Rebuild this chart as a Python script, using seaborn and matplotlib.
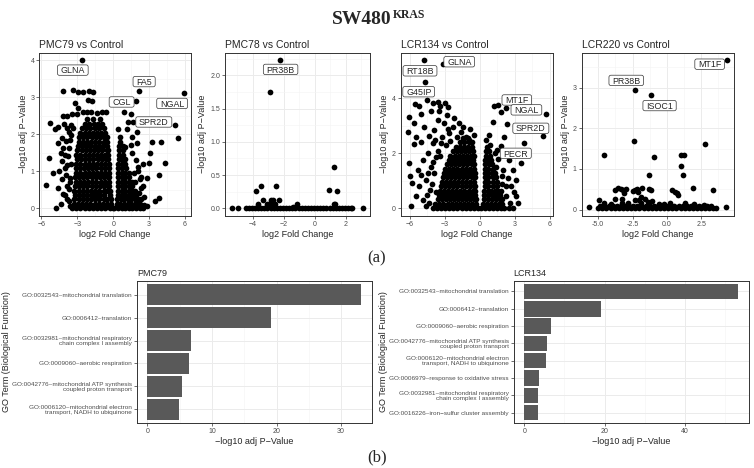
import numpy as np
import pandas as pd
import matplotlib
matplotlib.use("Agg")
import matplotlib.pyplot as plt
import seaborn as sns
from matplotlib.ticker import MultipleLocator, FormatStrFormatter
from matplotlib.patches import FancyBboxPatch
from matplotlib.transforms import IdentityTransform

# ------------------------------------------------------------------ data
panel_titles = ["PMC79 vs Control", "PMC78 vs Control", "LCR134 vs Control", "LCR220 vs Control"]

# volcano points: rows of (-log10 adj p, [log2FC ...]) for dense areas, plus scattered points
pmc79_rows = [
    (0.00, [-3.45, -3.1, -2.75, -2.4, -2.05, -1.7, -1.35, -1.0, -0.65, -0.3, -0.05, 0.1, 0.4, 0.7, 1.0, 1.3, 1.6, 1.9, 2.2, 2.45]),
    (0.12, [-3.3, -2.95, -2.6, -2.25, -1.9, -1.55, -1.2, -0.85, -0.5, -0.2, 0.3, 0.6, 0.9, 1.2, 1.5, 1.8, 2.05, 2.25]),
    (0.24, [-3.25, -2.9, -2.55, -2.2, -1.85, -1.5, -1.15, -0.8, -0.5, -0.22, 0.32, 0.62, 0.92, 1.22, 1.52, 1.82, 2.1]),
    (0.36, [-3.2, -2.85, -2.5, -2.15, -1.8, -1.45, -1.1, -0.75, -0.3, 0.4, 0.7, 1.0, 1.3, 1.6, 1.9]),
    (0.48, [-3.25, -2.9, -2.55, -2.2, -1.85, -1.5, -1.15, -0.8, -0.5, -0.3, 0.4, 0.7, 1.0, 1.3, 1.6, 1.85]),
    (0.60, [-3.2, -2.85, -2.5, -2.15, -1.8, -1.45, -1.1, -0.75, -0.45, -0.32, 0.42, 0.72, 1.02, 1.32, 1.6]),
    (0.72, [-3.15, -2.8, -2.45, -2.1, -1.75, -1.4, -1.05, -0.7, -0.35, 0.42, 0.7, 1.0, 1.3, 1.55]),
    (0.84, [-3.2, -2.85, -2.5, -2.15, -1.8, -1.45, -1.1, -0.75, -0.45, -0.33, 0.42, 0.72, 1.02, 1.35]),
    (0.96, [-3.1, -2.75, -2.4, -2.05, -1.7, -1.35, -1.0, -0.65, -0.35, 0.42, 0.7, 1.0, 1.28]),
    (1.08, [-3.15, -2.8, -2.45, -2.1, -1.75, -1.4, -1.05, -0.7, -0.38, 0.42, 0.72, 1.05]),
    (1.20, [-3.1, -2.75, -2.4, -2.05, -1.7, -1.35, -1.0, -0.65, -0.38, 0.42, 0.7, 1.0]),
    (1.32, [-3.05, -2.7, -2.35, -2.0, -1.65, -1.3, -0.95, -0.6, -0.4, 0.45, 0.75, 0.95]),
    (1.44, [-3.1, -2.75, -2.4, -2.05, -1.7, -1.35, -1.0, -0.65, -0.42, 0.45, 0.8]),
    (1.56, [-3.0, -2.65, -2.3, -1.95, -1.6, -1.25, -0.9, -0.55, -0.42, 0.5, 0.8]),
    (1.68, [-2.95, -2.6, -2.25, -1.9, -1.55, -1.2, -0.85, -0.5, 0.5, 0.85]),
    (1.80, [-2.9, -2.55, -2.2, -1.85, -1.5, -1.15, -0.8, -0.5, 0.55]),
    (1.92, [-2.85, -2.5, -2.15, -1.8, -1.45, -1.1, -0.75, -0.55]),
    (2.04, [-2.75, -2.4, -2.05, -1.7, -1.35, -1.0, -0.65]),
    (2.16, [-2.65, -2.25, -1.9, -1.5, -1.15, -0.8]),
    (2.28, [-2.4, -2.0, -1.6, -1.25, -0.9]),
    (2.40, [-2.2, -1.7, -1.1]),
]
pmc79_sx = [-2.63, -4.16, -3.38, -2.91, -2.5, -2.0, -1.72, -3.19, -2.08, -1.8, -2.91, -2.5, -2.16, -1.86, -1.39, -0.97, -0.64,
            -4.16, -3.89, -3.47, -3.05, -5.28, -4.86, -4.58, -4.11, -3.89, -3.33, -3.55,
            -5.6, -4.99, -5.33, -4.52, -4.82, -4.3, -4.16, -4.02, -3.94, -3.83, -4.16, -3.83, -3.66, -3.61, -3.66, -4.38, -4.58, -4.3,
            -3.7, -3.9, -4.0, -3.75, -3.6, -4.25, -3.5, -3.95, -4.4, -3.6, -4.0, -3.7, -4.6, -3.55, -3.6,
            1.87, 2.17, 5.92, 5.2, 5.42, 4.03, 3.25, 4.36, 2.97, 3.8, 3.84, 3.48, 3.11, 2.45, 2.78, 2.36, 2.0, 1.95, 1.67, 1.25,
            1.11, 1.53, 0.97, 0.89, 1.45, 0.55, 0.42, 2.36, 2.08, 2.56, 2.17, 2.5, 1.7, 1.9, 2.2, 1.6, 1.45, 1.8, 2.05, 2.3, 2.6, 2.8]
pmc79_sy = [4.0, 3.17, 3.18, 3.13, 3.15, 3.17, 3.13, 2.85, 2.93, 2.9, 2.72, 2.61, 2.59, 2.61, 2.57, 2.6, 2.6,
            2.48, 2.48, 2.54, 2.54, 2.29, 2.13, 2.2, 2.27, 2.17, 2.17, 1.99,
            0.63, 0.96, 1.35, 1.0, 0.0, 1.27, 1.63, 1.45, 1.81, 1.18, 0.38, 0.25, 0.51, 0.82, 1.63, 0.11, 0.55, 0.78,
            0.2, 0.6, 1.1, 1.4, 1.85, 1.9, 2.25, 0.9, 1.5, 0.05, 0.35, 2.05, 1.75, 1.2, 0.7,
            2.89, 3.16, 3.11, 2.24, 1.9, 1.79, 1.79, 1.23, 1.23, 0.9, 0.28, 0.19, 1.48, 1.2, 0.81, 0.54, 1.75, 2.06, 2.33, 2.33,
            2.15, 1.93, 1.66, 2.6, 2.55, 1.93, 2.15, 0.85, 1.12, 0.31, 0.4, 0.6, 0.95, 1.3, 0.8, 1.5, 1.7, 0.7, 1.0, 0.25, 0.1, 0.05]
pmc79_genes = ["GLNA", "FA5", "CGL", "NGAL", "SPR2D"]

pmc78_rows = [
    (0.0, [-5.37, -4.95, -4.45, -4.26, -4.05, -3.86, -3.66, -3.45, -3.26, -3.06, -2.85, -2.66, -2.45, -2.26, -2.06,
           -1.86, -1.65, -1.46, -1.26, -1.05, -0.86, -0.66, -0.45, -0.26, -0.06, 0.14, 0.35, 0.54, 0.74, 0.95, 1.14,
           1.34, 1.55, 1.74, 1.94, 2.15, 2.34, 2.42, 3.13]),
]
pmc78_sx = [-2.28, -2.92, 1.25, -3.49, -2.53, -3.82, 0.89, 1.42, -3.34, -2.81, -2.34, -3.66, -3.07, -2.75, -2.6,
            -1.14, 1.21, 1.31, -1.4, -2.95, -2.7]
pmc78_sy = [2.23, 1.75, 0.62, 0.34, 0.34, 0.26, 0.27, 0.26, 0.12, 0.12, 0.12, 0.07, 0.07, 0.07, 0.07,
            0.07, 0.07, 0.07, 0.02, 0.07, 0.12]
pmc78_genes = ["PR38B"]

lcr134_rows = [
    (0.00, [-4.0, -3.65, -3.3, -2.95, -2.6, -2.25, -1.9, -1.55, -1.2, -0.85, -0.5, -0.15, 0.1, 0.45, 0.8, 1.15, 1.5, 1.85, 2.1, 2.5, 2.85]),
    (0.16, [-3.8, -3.45, -3.1, -2.75, -2.4, -2.05, -1.7, -1.35, -1.0, -0.65, -0.3, 0.25, 0.6, 0.95, 1.3, 1.65, 1.95]),
    (0.32, [-3.6, -3.25, -2.9, -2.55, -2.2, -1.85, -1.5, -1.15, -0.8, -0.45, -0.35, 0.35, 0.7, 1.05, 1.4, 1.75, 1.9]),
    (0.48, [-3.5, -3.15, -2.8, -2.45, -2.1, -1.75, -1.4, -1.05, -0.7, -0.38, 0.4, 0.75, 1.1, 1.45, 1.7]),
    (0.64, [-3.4, -3.05, -2.7, -2.35, -2.0, -1.65, -1.3, -0.95, -0.6, -0.38, 0.4, 0.7, 1.0, 1.3, 1.6]),
    (0.80, [-3.3, -2.95, -2.6, -2.25, -1.9, -1.55, -1.2, -0.85, -0.5, -0.4, 0.42, 0.75, 1.1, 1.5]),
    (0.96, [-3.25, -2.9, -2.55, -2.2, -1.85, -1.5, -1.15, -0.8, -0.45, 0.42, 0.75, 1.1, 1.45]),
    (1.12, [-3.15, -2.8, -2.45, -2.1, -1.75, -1.4, -1.05, -0.7, -0.42, 0.42, 0.75, 1.1, 1.4]),
    (1.28, [-3.05, -2.7, -2.35, -2.0, -1.65, -1.3, -0.95, -0.6, -0.42, 0.42, 0.75, 1.05, 1.3]),
    (1.44, [-2.95, -2.6, -2.25, -1.9, -1.55, -1.2, -0.85, -0.5, 0.42, 0.75, 1.1]),
    (1.60, [-2.8, -2.45, -2.1, -1.75, -1.4, -1.05, -0.7, -0.45, 0.45, 0.8, 1.05]),
    (1.76, [-2.65, -2.3, -1.95, -1.6, -1.25, -0.9, -0.55, 0.45, 0.75, 1.0]),
    (1.92, [-2.5, -2.15, -1.8, -1.45, -1.1, -0.75, -0.5, 0.5, 0.85]),
    (2.08, [-2.3, -1.95, -1.6, -1.25, -0.9, -0.55, 0.5, 0.8]),
    (2.24, [-2.05, -1.7, -1.35, -1.0, -0.65, 0.6]),
    (2.40, [-1.7, -1.3, -0.95, -0.7]),
    (2.56, [-1.4, -1.0]),
]
lcr134_sx = [-4.74, -3.12, -4.64, -4.54, -5.54, -5.18, -6.08, -5.03, -3.97, -3.6, -3.4, -2.95, -2.75, -3.46, -2.83, -4.17,
             -6.17, -6.02, -5.59, -5.03, -5.18, -4.87, -5.45, -4.74, -4.37, -4.03, -4.46, -4.87, -5.31, -4.6, -4.26, -5.45,
             -5.88, -4.6, -4.17, -3.74, -3.32, -2.61, -2.32, -1.98, -1.61, -1.18, -0.9, -0.47, -3.04, -3.89, -3.6, -2.18,
             -5.8, -5.6, -6.0, -4.3, -4.5, -4.1, -3.9, -3.7, -4.0, -3.6, -3.2, -2.9, -2.5, -3.4, -3.8, -4.4, -5.0, -2.7,
             -1.4, -0.8, -1.8,
             1.24, 1.61, 2.23, 1.8, 1.1, 4.17, 5.66, 5.46, 2.32, 3.76, 3.58, 2.1, 1.8, 2.5, 2.81, 3.1, 2.67, 3.1, 3.25,
             2.23, 0.52, 0.8, 1.52, 1.38, 1.95, 2.23, 1.8, 1.6, 2.0, 2.4, 1.9, 2.6, 2.9, 1.3, 0.9, 3.1]
lcr134_sy = [5.39, 5.24, 4.6, 3.94, 3.78, 3.72, 3.33, 3.43, 3.82, 3.86, 3.72, 3.82, 3.7, 3.55, 3.39, 3.55,
             2.79, 1.63, 2.33, 1.2, 0.8, 0.31, 2.6, 2.97, 2.63, 2.37, 2.0, 1.76, 1.39, 1.04, 0.68, 0.44,
             0.08, 0.08, 1.52, 1.88, 2.37, 2.73, 2.97, 2.61, 2.79, 2.61, 2.49, 2.67, 3.09, 2.85, 3.21, 3.27,
             0.92, 3.09, 1.16, 0.2, 0.5, 0.9, 1.3, 0.6, 1.7, 2.1, 2.6, 2.3, 2.45, 1.9, 2.5, 1.3, 2.4, 2.9,
             2.95, 2.9, 3.1,
             3.72, 3.76, 3.64, 3.52, 3.15, 3.94, 3.43, 2.63, 3.06, 2.37, 1.63, 2.6, 2.25, 1.76, 1.4, 1.04, 0.8, 0.44, 0.2,
             0.44, 2.49, 2.67, 2.13, 1.52, 1.16, 0.8, 0.62, 1.8, 1.4, 1.1, 0.9, 0.2, 0.6, 2.0, 2.3, 1.95]
lcr134_genes = ["GLNA", "RT18B", "G45IP", "MT1F", "NGAL", "SPR2D", "PECR"]

lcr220_rows = [
    (0.03, [-5.0, -4.7, -4.4, -4.1, -3.8, -3.5, -3.2, -2.9, -2.6, -2.3, -2.0, -1.7, -1.4, -1.1, -0.8, -0.5, -0.2,
            0.1, 0.4, 0.7, 1.0, 1.3, 1.6, 1.9, 2.2, 2.5, 2.8, 3.1, 3.4, 3.55]),
    (0.09, [-4.85, -4.55, -4.25, -3.95, -3.65, -3.35, -3.05, -2.75, -2.45, -2.15, -1.85, -1.55, -1.25, -0.95, -0.65,
            -0.35, -0.05, 0.25, 0.55, 0.85, 1.15, 1.45, 1.75, 2.05, 2.35, 2.65, 2.95, 3.25]),
]
lcr220_sx = [-5.7, 4.3, 4.39, -2.3, -1.18, -2.42, 2.81, -4.56, -0.94, 1.06, 1.26, 1.06, 1.16, -1.32, 1.88, 3.37,
             -3.8, -3.56, -3.31, -3.22, -2.49, -2.3, -2.1, -2.17, -1.81, -1.33, -1.15, 0.38, 0.62, 0.74, 0.82,
             -3.75, -3.27, -2.35, -1.86, -1.62, -2.05, -1.09, -4.93, -3.1, -2.95,
             -4.6, -4.1, -2.8, -1.9, -0.6, 0.2, 1.3, 2.0, 2.7, -3.3, -1.4, -0.2]
lcr220_sy = [0.07, 0.07, 3.68, 2.94, 2.82, 1.69, 1.62, 1.35, 1.29, 1.35, 1.35, 1.06, 0.86, 0.86, 0.53, 0.49,
             0.47, 0.53, 0.51, 0.47, 0.45, 0.47, 0.43, 0.51, 0.53, 0.5, 0.47, 0.47, 0.43, 0.41, 0.35,
             0.25, 0.25, 0.23, 0.31, 0.27, 0.23, 0.21, 0.24, 0.4, 0.5,
             0.16, 0.14, 0.17, 0.15, 0.14, 0.16, 0.15, 0.13, 0.12, 0.15, 0.18, 0.13]
lcr220_genes = ["MT1F", "PR38B", "ISOC1"]

# GO enrichment bars
pmc79_terms = ["GO:0032543~mitochondrial translation",
               "GO:0006412~translation",
               "GO:0032981~mitochondrial respiratory\nchain complex I assembly",
               "GO:0009060~aerobic respiration",
               "GO:0042776~mitochondrial ATP synthesis\ncoupled proton transport",
               "GO:0006120~mitochondrial electron\ntransport, NADH to ubiquinone"]
pmc79_values = [33.1, 19.2, 6.75, 6.5, 5.4, 4.95]

lcr134_terms = ["GO:0032543~mitochondrial translation",
                "GO:0006412~translation",
                "GO:0009060~aerobic respiration",
                "GO:0042776~mitochondrial ATP synthesis\ncoupled proton transport",
                "GO:0006120~mitochondrial electron\ntransport, NADH to ubiquinone",
                "GO:0006979~response to oxidative stress",
                "GO:0032981~mitochondrial respiratory\nchain complex I assembly",
                "GO:0016226~iron\u2212sulfur cluster assembly"]
lcr134_values = [53.2, 19.0, 6.6, 5.6, 5.5, 3.7, 3.45, 3.4]

# ------------------------------------------------------------------ layout (label box centres, data units)
label_pos = [
    {"GLNA": (-3.38, 3.73), "FA5": (2.58, 3.42), "CGL": (0.7, 2.87), "NGAL": (4.92, 2.83), "SPR2D": (3.39, 2.33)},
    {"PR38B": (-2.21, 2.09)},
    {"GLNA": (-1.75, 5.33), "RT18B": (-5.11, 5.0), "G45IP": (-5.22, 4.24), "MT1F": (3.18, 3.94),
     "NGAL": (4.0, 3.58), "SPR2D": (4.38, 2.91), "PECR": (3.09, 2.0)},
    {"MT1F": (3.12, 3.58), "PR38B": (-2.96, 3.18), "ISOC1": (-0.53, 2.56)},
]

sns.set_theme(style="white")
plt.rcParams["font.family"] = ["Liberation Sans", "DejaVu Sans"]

W, H = 754, 468
fig = plt.figure(figsize=(W / 100, H / 100), dpi=100)
fig.patch.set_facecolor("white")
renderer = fig.canvas.get_renderer()


def add_ax(l, t, r, b):
    return fig.add_axes([l / W, 1 - b / H, (r - l) / W, (b - t) / H])


def style(ax):
    ax.set_facecolor("white")
    for s in ax.spines.values():
        s.set_visible(True)
        s.set_color("#333333")
        s.set_linewidth(0.7)
    ax.set_axisbelow(True)
    ax.tick_params(which="major", length=2, width=0.5, color="#333333", labelsize=5,
                   labelcolor="#4D4D4D", pad=1.5, bottom=True, left=True)
    ax.tick_params(which="minor", length=0)


def volcano_df(rows, sx, sy):
    xs, ys = [], []
    for yv, row in rows:
        xs += row
        ys += [yv] * len(row)
    xs += sx
    ys += sy
    return pd.DataFrame({"log2FC": xs, "nlp": ys})


def gene_label(ax, name, lx, ly):
    t = ax.annotate(name, xy=(lx, ly), xytext=(0, -2.3), textcoords="offset points",
                    ha="center", va="baseline", fontsize=6.4, zorder=6)
    w = t.get_window_extent(renderer).width
    cx, cy = ax.transData.transform((lx, ly))
    box = FancyBboxPatch((cx - w / 2 - 3.2, cy - 5.2), w + 6.4, 10.4,
                         boxstyle="round,pad=0,rounding_size=2", fc="white", ec="#333333",
                         lw=0.5, transform=IdentityTransform(), zorder=5, clip_on=False)
    ax.add_artist(box)


ylab = "\u2212log10 adj P\u2212Value"
volc = [
    (volcano_df(pmc79_rows, pmc79_sx, pmc79_sy), (39.3, 191), 3, 1, None, None),
    (volcano_df(pmc78_rows, pmc78_sx, pmc78_sy), (225, 370), 2, 0.5, None, "%.1f"),
    (volcano_df(lcr134_rows, lcr134_sx, lcr134_sy), (400.7, 552.7), 3, 2, None, None),
    (volcano_df(lcr220_rows, lcr220_sx, lcr220_sy), (581.7, 734), 2.5, 1, "%.1f", None),
]

for i, (df, (l, r), xmaj, ymaj, fx, fy) in enumerate(volc):
    ax = add_ax(l, 52.7, r, 215.7)
    sns.scatterplot(data=df, x="log2FC", y="nlp", ax=ax, color="black", s=17,
                    linewidth=0, legend=False, zorder=3)
    ax.margins(0.05)
    ax.autoscale_view()
    ax.set_xlim(ax.get_xlim())
    ax.set_ylim(ax.get_ylim())
    ax.xaxis.set_major_locator(MultipleLocator(xmaj))
    ax.xaxis.set_minor_locator(MultipleLocator(xmaj / 2))
    ax.yaxis.set_major_locator(MultipleLocator(ymaj))
    ax.yaxis.set_minor_locator(MultipleLocator(ymaj / 2))
    if fx:
        ax.xaxis.set_major_formatter(FormatStrFormatter(fx))
    if fy:
        ax.yaxis.set_major_formatter(FormatStrFormatter(fy))
    ax.grid(True, which="major", color="#EBEBEB", lw=0.7)
    ax.grid(True, which="minor", color="#F4F4F4", lw=0.4)
    style(ax)
    ax.set_xlabel("log2 Fold Change", fontsize=6.5, labelpad=1.5)
    ax.set_ylabel(ylab, fontsize=6.5, labelpad=2)
    ax.annotate(panel_titles[i], xy=(0, 1), xycoords="axes fraction", xytext=(0, 3.3),
                textcoords="offset points", ha="left", va="baseline", fontsize=7.5)
    for name, (lx, ly) in label_pos[i].items():
        gene_label(ax, name, lx, ly)

# bars
bars = [
    ("PMC79", pmc79_terms, pmc79_values, (136.8, 371.7), 10, 11),
    ("LCR134", lcr134_terms, lcr134_values, (513.6, 748.7), 20, 388),
]
for title, terms, vals, (l, r), xmaj, ylx in bars:
    ax = add_ax(l, 281, r, 423)
    bdf = pd.DataFrame({"term": terms, "val": vals})
    sns.barplot(data=bdf, x="val", y="term", orient="h", color="#595959", saturation=1,
                width=0.9, linewidth=0, ax=ax, zorder=3)
    m = max(vals)
    ax.set_xlim(-0.05 * m, 1.05 * m)
    n = len(terms)
    ax.set_ylim(n - 1 + 0.6, -0.6)
    ax.xaxis.set_major_locator(MultipleLocator(xmaj))
    ax.xaxis.set_minor_locator(MultipleLocator(xmaj / 2))
    ax.grid(True, axis="x", which="major", color="#EBEBEB", lw=0.7)
    ax.grid(True, axis="x", which="minor", color="#F4F4F4", lw=0.4)
    ax.grid(True, axis="y", which="major", color="#EBEBEB", lw=0.7)
    style(ax)
    ax.tick_params(axis="y", labelsize=4.6)
    for t in ax.get_yticklabels():
        t.set_linespacing(1.0)
    ax.set_xlabel(ylab, fontsize=6.5, labelpad=1.5)
    ax.set_ylabel("GO Term (Biological Function)", fontsize=6.5)
    ax.yaxis.set_label_coords((ylx - l) / (r - l), 0.5)
    ax.annotate(title, xy=(0, 1), xycoords="axes fraction", xytext=(0, 3.5),
                textcoords="offset points", ha="left", va="baseline", fontsize=6.5)

# titles and panel letters
fig.text(392 / W, 1 - 24 / H, "SW480", ha="right", va="baseline", fontsize=14,
         fontweight="bold", family="Liberation Serif")
fig.text(392.5 / W, 1 - 18.5 / H, "KRAS", ha="left", va="baseline", fontsize=8.5,
         fontweight="bold", family="Liberation Serif")
fig.text(377 / W, 1 - 258 / H, "(a)", ha="center", va="center", fontsize=12, family="Liberation Serif")
fig.text(377 / W, 1 - 457 / H, "(b)", ha="center", va="center", fontsize=12, family="Liberation Serif")

fig.savefig("out.png", dpi=100, facecolor="white")
